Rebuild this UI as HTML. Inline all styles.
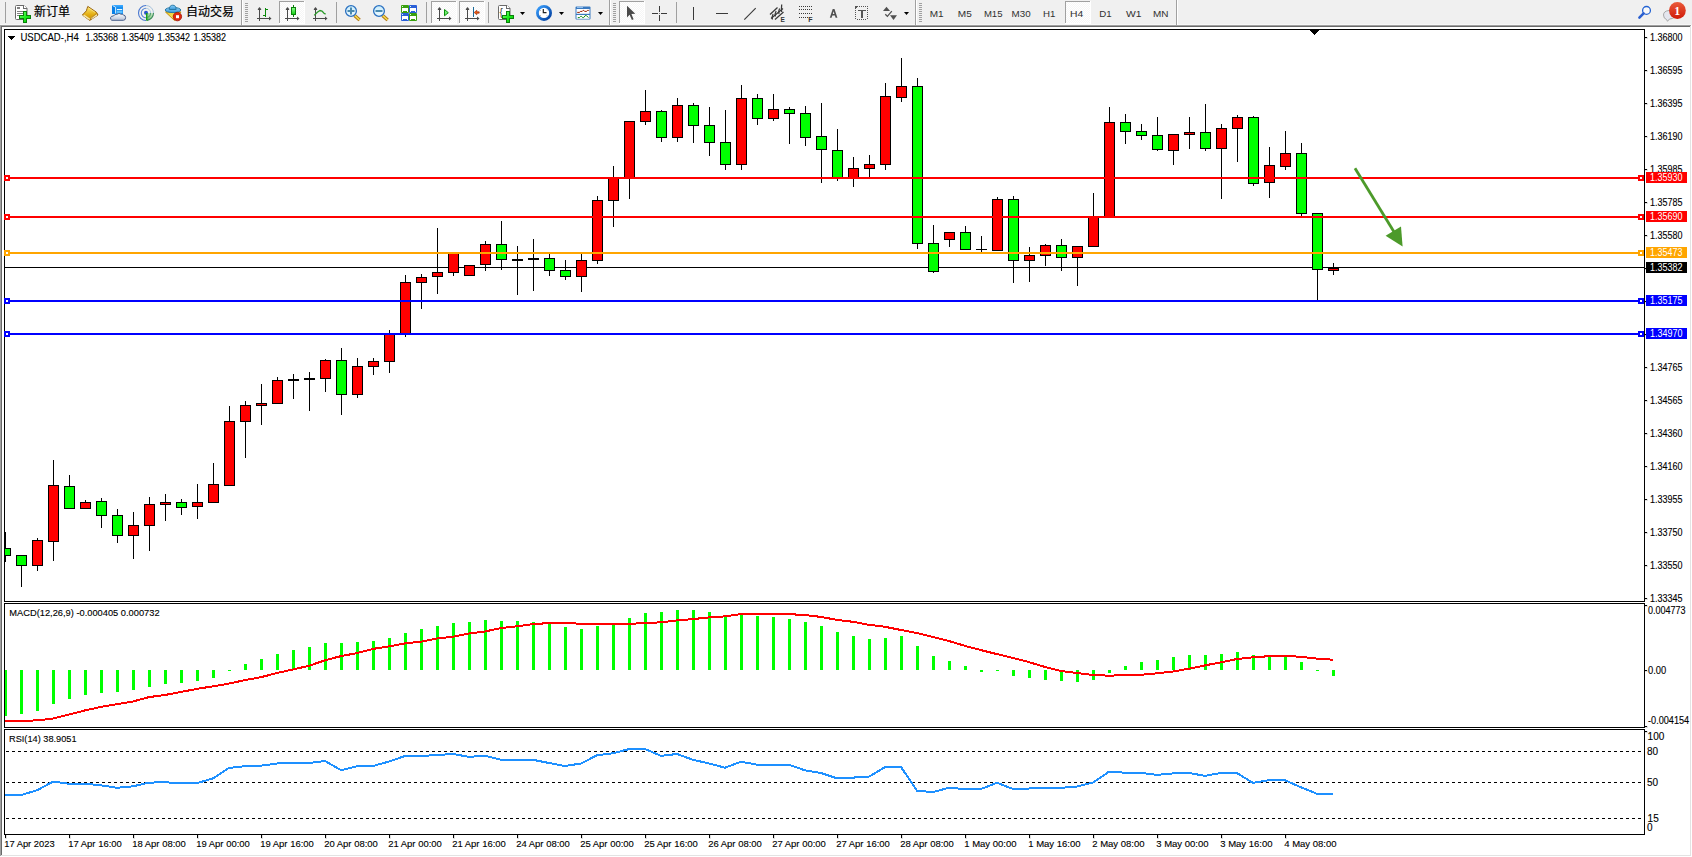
<!DOCTYPE html>
<html><head><meta charset="utf-8"><title>USDCAD,H4</title>
<style>
html,body{margin:0;padding:0;background:#f0f0f0;}
body{width:1692px;height:857px;overflow:hidden;position:relative;}
svg{position:absolute;left:0;top:0;display:block;}
</style></head><body>
<svg width="1692" height="857" viewBox="0 0 1692 857" shape-rendering="crispEdges">
<rect x="0" y="0" width="1692" height="25" fill="#f0f0f0"/>
<rect x="0" y="24" width="1691" height="1" fill="#f7f7f7"/>
<rect x="0" y="25" width="1691" height="1" fill="#a0a0a0"/>
<rect x="0" y="25" width="1" height="831" fill="#a0a0a0"/>
<rect x="0" y="856" width="1692" height="1" fill="#ffffff"/>
<rect x="1691" y="25" width="1" height="832" fill="#ffffff"/>
<rect x="1" y="26" width="1689" height="1" fill="#696969"/>
<rect x="1" y="26" width="1" height="829" fill="#696969"/>
<rect x="1" y="855" width="1690" height="1" fill="#e3e3e3"/>
<rect x="1690" y="26" width="1" height="830" fill="#e3e3e3"/>
<rect x="2" y="27" width="1688" height="828" fill="#ffffff"/>
<rect x="4" y="29" width="1641" height="1" fill="#000"/>
<rect x="4" y="601" width="1641" height="1" fill="#000"/>
<rect x="4" y="29" width="1" height="573" fill="#000"/>
<rect x="1644" y="29" width="1" height="573" fill="#000"/>
<rect x="4" y="603" width="1641" height="1" fill="#000"/>
<rect x="4" y="727" width="1641" height="1" fill="#000"/>
<rect x="4" y="603" width="1" height="125" fill="#000"/>
<rect x="1644" y="603" width="1" height="125" fill="#000"/>
<rect x="4" y="729" width="1641" height="1" fill="#000"/>
<rect x="4" y="834" width="1641" height="1" fill="#000"/>
<rect x="4" y="729" width="1" height="106" fill="#000"/>
<rect x="1644" y="729" width="1" height="106" fill="#000"/>
<rect x="5" y="267" width="1639" height="1" fill="#000"/>
<g>
<rect x="5" y="532" width="1" height="30" fill="#000"/>
<rect x="5" y="548" width="6" height="8" fill="#000"/>
<rect x="5" y="549" width="5" height="6" fill="#00ff00"/>
<rect x="21" y="555" width="1" height="32" fill="#000"/>
<rect x="16" y="555" width="11" height="11" fill="#000"/>
<rect x="17" y="556" width="9" height="9" fill="#00ff00"/>
<rect x="37" y="538" width="1" height="33" fill="#000"/>
<rect x="32" y="540" width="11" height="26" fill="#000"/>
<rect x="33" y="541" width="9" height="24" fill="#ff0000"/>
<rect x="53" y="460" width="1" height="101" fill="#000"/>
<rect x="48" y="485" width="11" height="57" fill="#000"/>
<rect x="49" y="486" width="9" height="55" fill="#ff0000"/>
<rect x="69" y="475" width="1" height="33" fill="#000"/>
<rect x="64" y="486" width="11" height="23" fill="#000"/>
<rect x="65" y="487" width="9" height="21" fill="#00ff00"/>
<rect x="85" y="500" width="1" height="8" fill="#000"/>
<rect x="80" y="502" width="11" height="7" fill="#000"/>
<rect x="81" y="503" width="9" height="5" fill="#ff0000"/>
<rect x="101" y="498" width="1" height="30" fill="#000"/>
<rect x="96" y="501" width="11" height="15" fill="#000"/>
<rect x="97" y="502" width="9" height="13" fill="#00ff00"/>
<rect x="117" y="509" width="1" height="34" fill="#000"/>
<rect x="112" y="515" width="11" height="21" fill="#000"/>
<rect x="113" y="516" width="9" height="19" fill="#00ff00"/>
<rect x="133" y="512" width="1" height="47" fill="#000"/>
<rect x="128" y="525" width="11" height="11" fill="#000"/>
<rect x="129" y="526" width="9" height="9" fill="#ff0000"/>
<rect x="149" y="497" width="1" height="54" fill="#000"/>
<rect x="144" y="504" width="11" height="22" fill="#000"/>
<rect x="145" y="505" width="9" height="20" fill="#ff0000"/>
<rect x="165" y="494" width="1" height="27" fill="#000"/>
<rect x="160" y="502" width="11" height="3" fill="#000"/>
<rect x="161" y="503" width="9" height="1" fill="#ff0000"/>
<rect x="181" y="499" width="1" height="16" fill="#000"/>
<rect x="176" y="502" width="11" height="6" fill="#000"/>
<rect x="177" y="503" width="9" height="4" fill="#00ff00"/>
<rect x="197" y="484" width="1" height="35" fill="#000"/>
<rect x="192" y="502" width="11" height="5" fill="#000"/>
<rect x="193" y="503" width="9" height="3" fill="#ff0000"/>
<rect x="213" y="463" width="1" height="39" fill="#000"/>
<rect x="208" y="484" width="11" height="19" fill="#000"/>
<rect x="209" y="485" width="9" height="17" fill="#ff0000"/>
<rect x="229" y="406" width="1" height="79" fill="#000"/>
<rect x="224" y="421" width="11" height="65" fill="#000"/>
<rect x="225" y="422" width="9" height="63" fill="#ff0000"/>
<rect x="245" y="401" width="1" height="57" fill="#000"/>
<rect x="240" y="405" width="11" height="17" fill="#000"/>
<rect x="241" y="406" width="9" height="15" fill="#ff0000"/>
<rect x="261" y="384" width="1" height="41" fill="#000"/>
<rect x="256" y="403" width="11" height="3" fill="#000"/>
<rect x="257" y="404" width="9" height="1" fill="#ff0000"/>
<rect x="277" y="377" width="1" height="27" fill="#000"/>
<rect x="272" y="380" width="11" height="24" fill="#000"/>
<rect x="273" y="381" width="9" height="22" fill="#ff0000"/>
<rect x="293" y="374" width="1" height="25" fill="#000"/>
<rect x="288" y="379" width="11" height="2" fill="#000"/>
<rect x="309" y="372" width="1" height="39" fill="#000"/>
<rect x="304" y="378" width="11" height="2" fill="#000"/>
<rect x="325" y="359" width="1" height="33" fill="#000"/>
<rect x="320" y="360" width="11" height="19" fill="#000"/>
<rect x="321" y="361" width="9" height="17" fill="#ff0000"/>
<rect x="341" y="348" width="1" height="67" fill="#000"/>
<rect x="336" y="360" width="11" height="35" fill="#000"/>
<rect x="337" y="361" width="9" height="33" fill="#00ff00"/>
<rect x="357" y="358" width="1" height="40" fill="#000"/>
<rect x="352" y="366" width="11" height="29" fill="#000"/>
<rect x="353" y="367" width="9" height="27" fill="#ff0000"/>
<rect x="373" y="358" width="1" height="17" fill="#000"/>
<rect x="368" y="361" width="11" height="6" fill="#000"/>
<rect x="369" y="362" width="9" height="4" fill="#ff0000"/>
<rect x="389" y="330" width="1" height="43" fill="#000"/>
<rect x="384" y="334" width="11" height="28" fill="#000"/>
<rect x="385" y="335" width="9" height="26" fill="#ff0000"/>
<rect x="405" y="275" width="1" height="62" fill="#000"/>
<rect x="400" y="282" width="11" height="52" fill="#000"/>
<rect x="401" y="283" width="9" height="50" fill="#ff0000"/>
<rect x="421" y="274" width="1" height="35" fill="#000"/>
<rect x="416" y="277" width="11" height="6" fill="#000"/>
<rect x="417" y="278" width="9" height="4" fill="#ff0000"/>
<rect x="437" y="228" width="1" height="66" fill="#000"/>
<rect x="432" y="272" width="11" height="5" fill="#000"/>
<rect x="433" y="273" width="9" height="3" fill="#ff0000"/>
<rect x="453" y="253" width="1" height="23" fill="#000"/>
<rect x="448" y="253" width="11" height="20" fill="#000"/>
<rect x="449" y="254" width="9" height="18" fill="#ff0000"/>
<rect x="469" y="265" width="1" height="11" fill="#000"/>
<rect x="464" y="265" width="11" height="11" fill="#000"/>
<rect x="465" y="266" width="9" height="9" fill="#ff0000"/>
<rect x="485" y="241" width="1" height="30" fill="#000"/>
<rect x="480" y="244" width="11" height="21" fill="#000"/>
<rect x="481" y="245" width="9" height="19" fill="#ff0000"/>
<rect x="501" y="221" width="1" height="49" fill="#000"/>
<rect x="496" y="244" width="11" height="16" fill="#000"/>
<rect x="497" y="245" width="9" height="14" fill="#00ff00"/>
<rect x="517" y="246" width="1" height="49" fill="#000"/>
<rect x="512" y="259" width="11" height="2" fill="#000"/>
<rect x="533" y="239" width="1" height="52" fill="#000"/>
<rect x="528" y="258" width="11" height="2" fill="#000"/>
<rect x="549" y="254" width="1" height="22" fill="#000"/>
<rect x="544" y="258" width="11" height="13" fill="#000"/>
<rect x="545" y="259" width="9" height="11" fill="#00ff00"/>
<rect x="565" y="260" width="1" height="20" fill="#000"/>
<rect x="560" y="270" width="11" height="7" fill="#000"/>
<rect x="561" y="271" width="9" height="5" fill="#00ff00"/>
<rect x="581" y="254" width="1" height="38" fill="#000"/>
<rect x="576" y="260" width="11" height="17" fill="#000"/>
<rect x="577" y="261" width="9" height="15" fill="#ff0000"/>
<rect x="597" y="196" width="1" height="68" fill="#000"/>
<rect x="592" y="200" width="11" height="61" fill="#000"/>
<rect x="593" y="201" width="9" height="59" fill="#ff0000"/>
<rect x="613" y="166" width="1" height="61" fill="#000"/>
<rect x="608" y="178" width="11" height="23" fill="#000"/>
<rect x="609" y="179" width="9" height="21" fill="#ff0000"/>
<rect x="629" y="121" width="1" height="78" fill="#000"/>
<rect x="624" y="121" width="11" height="57" fill="#000"/>
<rect x="625" y="122" width="9" height="55" fill="#ff0000"/>
<rect x="645" y="90" width="1" height="35" fill="#000"/>
<rect x="640" y="111" width="11" height="11" fill="#000"/>
<rect x="641" y="112" width="9" height="9" fill="#ff0000"/>
<rect x="661" y="110" width="1" height="32" fill="#000"/>
<rect x="656" y="111" width="11" height="27" fill="#000"/>
<rect x="657" y="112" width="9" height="25" fill="#00ff00"/>
<rect x="677" y="98" width="1" height="44" fill="#000"/>
<rect x="672" y="105" width="11" height="33" fill="#000"/>
<rect x="673" y="106" width="9" height="31" fill="#ff0000"/>
<rect x="693" y="103" width="1" height="40" fill="#000"/>
<rect x="688" y="105" width="11" height="21" fill="#000"/>
<rect x="689" y="106" width="9" height="19" fill="#00ff00"/>
<rect x="709" y="107" width="1" height="49" fill="#000"/>
<rect x="704" y="125" width="11" height="18" fill="#000"/>
<rect x="705" y="126" width="9" height="16" fill="#00ff00"/>
<rect x="725" y="110" width="1" height="60" fill="#000"/>
<rect x="720" y="142" width="11" height="23" fill="#000"/>
<rect x="721" y="143" width="9" height="21" fill="#00ff00"/>
<rect x="741" y="85" width="1" height="85" fill="#000"/>
<rect x="736" y="98" width="11" height="67" fill="#000"/>
<rect x="737" y="99" width="9" height="65" fill="#ff0000"/>
<rect x="757" y="94" width="1" height="31" fill="#000"/>
<rect x="752" y="98" width="11" height="21" fill="#000"/>
<rect x="753" y="99" width="9" height="19" fill="#00ff00"/>
<rect x="773" y="94" width="1" height="27" fill="#000"/>
<rect x="768" y="109" width="11" height="10" fill="#000"/>
<rect x="769" y="110" width="9" height="8" fill="#ff0000"/>
<rect x="789" y="107" width="1" height="37" fill="#000"/>
<rect x="784" y="109" width="11" height="5" fill="#000"/>
<rect x="785" y="110" width="9" height="3" fill="#00ff00"/>
<rect x="805" y="106" width="1" height="40" fill="#000"/>
<rect x="800" y="113" width="11" height="25" fill="#000"/>
<rect x="801" y="114" width="9" height="23" fill="#00ff00"/>
<rect x="821" y="103" width="1" height="80" fill="#000"/>
<rect x="816" y="136" width="11" height="14" fill="#000"/>
<rect x="817" y="137" width="9" height="12" fill="#00ff00"/>
<rect x="837" y="129" width="1" height="52" fill="#000"/>
<rect x="832" y="150" width="11" height="28" fill="#000"/>
<rect x="833" y="151" width="9" height="26" fill="#00ff00"/>
<rect x="853" y="157" width="1" height="30" fill="#000"/>
<rect x="848" y="168" width="11" height="10" fill="#000"/>
<rect x="849" y="169" width="9" height="8" fill="#ff0000"/>
<rect x="869" y="155" width="1" height="22" fill="#000"/>
<rect x="864" y="164" width="11" height="5" fill="#000"/>
<rect x="865" y="165" width="9" height="3" fill="#ff0000"/>
<rect x="885" y="83" width="1" height="87" fill="#000"/>
<rect x="880" y="96" width="11" height="69" fill="#000"/>
<rect x="881" y="97" width="9" height="67" fill="#ff0000"/>
<rect x="901" y="58" width="1" height="44" fill="#000"/>
<rect x="896" y="86" width="11" height="12" fill="#000"/>
<rect x="897" y="87" width="9" height="10" fill="#ff0000"/>
<rect x="917" y="78" width="1" height="171" fill="#000"/>
<rect x="912" y="86" width="11" height="158" fill="#000"/>
<rect x="913" y="87" width="9" height="156" fill="#00ff00"/>
<rect x="933" y="225" width="1" height="48" fill="#000"/>
<rect x="928" y="243" width="11" height="29" fill="#000"/>
<rect x="929" y="244" width="9" height="27" fill="#00ff00"/>
<rect x="949" y="232" width="1" height="15" fill="#000"/>
<rect x="944" y="232" width="11" height="8" fill="#000"/>
<rect x="945" y="233" width="9" height="6" fill="#ff0000"/>
<rect x="965" y="226" width="1" height="23" fill="#000"/>
<rect x="960" y="232" width="11" height="18" fill="#000"/>
<rect x="961" y="233" width="9" height="16" fill="#00ff00"/>
<rect x="981" y="236" width="1" height="16" fill="#000"/>
<rect x="976" y="249" width="11" height="1" fill="#000"/>
<rect x="997" y="197" width="1" height="54" fill="#000"/>
<rect x="992" y="199" width="11" height="52" fill="#000"/>
<rect x="993" y="200" width="9" height="50" fill="#ff0000"/>
<rect x="1013" y="196" width="1" height="87" fill="#000"/>
<rect x="1008" y="199" width="11" height="62" fill="#000"/>
<rect x="1009" y="200" width="9" height="60" fill="#00ff00"/>
<rect x="1029" y="247" width="1" height="35" fill="#000"/>
<rect x="1024" y="255" width="11" height="6" fill="#000"/>
<rect x="1025" y="256" width="9" height="4" fill="#ff0000"/>
<rect x="1045" y="244" width="1" height="22" fill="#000"/>
<rect x="1040" y="245" width="11" height="11" fill="#000"/>
<rect x="1041" y="246" width="9" height="9" fill="#ff0000"/>
<rect x="1061" y="239" width="1" height="32" fill="#000"/>
<rect x="1056" y="245" width="11" height="13" fill="#000"/>
<rect x="1057" y="246" width="9" height="11" fill="#00ff00"/>
<rect x="1077" y="246" width="1" height="40" fill="#000"/>
<rect x="1072" y="246" width="11" height="12" fill="#000"/>
<rect x="1073" y="247" width="9" height="10" fill="#ff0000"/>
<rect x="1093" y="193" width="1" height="53" fill="#000"/>
<rect x="1088" y="216" width="11" height="31" fill="#000"/>
<rect x="1089" y="217" width="9" height="29" fill="#ff0000"/>
<rect x="1109" y="107" width="1" height="109" fill="#000"/>
<rect x="1104" y="122" width="11" height="95" fill="#000"/>
<rect x="1105" y="123" width="9" height="93" fill="#ff0000"/>
<rect x="1125" y="114" width="1" height="30" fill="#000"/>
<rect x="1120" y="122" width="11" height="10" fill="#000"/>
<rect x="1121" y="123" width="9" height="8" fill="#00ff00"/>
<rect x="1141" y="124" width="1" height="16" fill="#000"/>
<rect x="1136" y="131" width="11" height="5" fill="#000"/>
<rect x="1137" y="132" width="9" height="3" fill="#00ff00"/>
<rect x="1157" y="117" width="1" height="34" fill="#000"/>
<rect x="1152" y="135" width="11" height="15" fill="#000"/>
<rect x="1153" y="136" width="9" height="13" fill="#00ff00"/>
<rect x="1173" y="134" width="1" height="31" fill="#000"/>
<rect x="1168" y="134" width="11" height="17" fill="#000"/>
<rect x="1169" y="135" width="9" height="15" fill="#ff0000"/>
<rect x="1189" y="117" width="1" height="32" fill="#000"/>
<rect x="1184" y="132" width="11" height="3" fill="#000"/>
<rect x="1185" y="133" width="9" height="1" fill="#ff0000"/>
<rect x="1205" y="104" width="1" height="47" fill="#000"/>
<rect x="1200" y="132" width="11" height="17" fill="#000"/>
<rect x="1201" y="133" width="9" height="15" fill="#00ff00"/>
<rect x="1221" y="124" width="1" height="75" fill="#000"/>
<rect x="1216" y="128" width="11" height="21" fill="#000"/>
<rect x="1217" y="129" width="9" height="19" fill="#ff0000"/>
<rect x="1237" y="115" width="1" height="47" fill="#000"/>
<rect x="1232" y="117" width="11" height="12" fill="#000"/>
<rect x="1233" y="118" width="9" height="10" fill="#ff0000"/>
<rect x="1253" y="116" width="1" height="70" fill="#000"/>
<rect x="1248" y="117" width="11" height="67" fill="#000"/>
<rect x="1249" y="118" width="9" height="65" fill="#00ff00"/>
<rect x="1269" y="147" width="1" height="51" fill="#000"/>
<rect x="1264" y="165" width="11" height="18" fill="#000"/>
<rect x="1265" y="166" width="9" height="16" fill="#ff0000"/>
<rect x="1285" y="131" width="1" height="39" fill="#000"/>
<rect x="1280" y="153" width="11" height="14" fill="#000"/>
<rect x="1281" y="154" width="9" height="12" fill="#ff0000"/>
<rect x="1301" y="143" width="1" height="73" fill="#000"/>
<rect x="1296" y="153" width="11" height="61" fill="#000"/>
<rect x="1297" y="154" width="9" height="59" fill="#00ff00"/>
<rect x="1317" y="213" width="1" height="87" fill="#000"/>
<rect x="1312" y="213" width="11" height="57" fill="#000"/>
<rect x="1313" y="214" width="9" height="55" fill="#00ff00"/>
<rect x="1333" y="263" width="1" height="12" fill="#000"/>
<rect x="1328" y="268" width="11" height="3" fill="#000"/>
<rect x="1329" y="269" width="9" height="1" fill="#ff0000"/>
</g>
<rect x="5" y="177" width="1639" height="2" fill="#ff0000"/>
<rect x="4" y="175" width="6" height="6" fill="#ff0000"/>
<rect x="6" y="177" width="2" height="2" fill="#fff"/>
<rect x="1638" y="175" width="6" height="6" fill="#ff0000"/>
<rect x="1640" y="177" width="2" height="2" fill="#fff"/>
<rect x="5" y="216" width="1639" height="2" fill="#ff0000"/>
<rect x="4" y="214" width="6" height="6" fill="#ff0000"/>
<rect x="6" y="216" width="2" height="2" fill="#fff"/>
<rect x="1638" y="214" width="6" height="6" fill="#ff0000"/>
<rect x="1640" y="216" width="2" height="2" fill="#fff"/>
<rect x="5" y="252" width="1639" height="2" fill="#ffa500"/>
<rect x="4" y="250" width="6" height="6" fill="#ffa500"/>
<rect x="6" y="252" width="2" height="2" fill="#fff"/>
<rect x="1638" y="250" width="6" height="6" fill="#ffa500"/>
<rect x="1640" y="252" width="2" height="2" fill="#fff"/>
<rect x="5" y="300" width="1639" height="2" fill="#0000ff"/>
<rect x="4" y="298" width="6" height="6" fill="#0000ff"/>
<rect x="6" y="300" width="2" height="2" fill="#fff"/>
<rect x="1638" y="298" width="6" height="6" fill="#0000ff"/>
<rect x="1640" y="300" width="2" height="2" fill="#fff"/>
<rect x="5" y="333" width="1639" height="2" fill="#0000ff"/>
<rect x="4" y="331" width="6" height="6" fill="#0000ff"/>
<rect x="6" y="333" width="2" height="2" fill="#fff"/>
<rect x="1638" y="331" width="6" height="6" fill="#0000ff"/>
<rect x="1640" y="333" width="2" height="2" fill="#fff"/>
<g fill="#4c9a2a" stroke="none" shape-rendering="geometricPrecision"><line x1="1355" y1="168.3" x2="1395" y2="233.5" stroke="#4c9a2a" stroke-width="2.8"/><polygon points="1385.6,235.8 1401,226.6 1402.6,246.6"/></g>
<polygon points="1309.5,29.5 1319.5,29.5 1314.5,35" fill="#000"/>
<polygon points="8,36 15,36 11.5,39.6" fill="#000"/>
<rect x="5" y="670" width="2" height="46" fill="#00ff00"/>
<rect x="20" y="670" width="3" height="44" fill="#00ff00"/>
<rect x="36" y="670" width="3" height="41" fill="#00ff00"/>
<rect x="52" y="670" width="3" height="34" fill="#00ff00"/>
<rect x="68" y="670" width="3" height="29" fill="#00ff00"/>
<rect x="84" y="670" width="3" height="25" fill="#00ff00"/>
<rect x="100" y="670" width="3" height="23" fill="#00ff00"/>
<rect x="116" y="670" width="3" height="22" fill="#00ff00"/>
<rect x="132" y="670" width="3" height="20" fill="#00ff00"/>
<rect x="148" y="670" width="3" height="17" fill="#00ff00"/>
<rect x="164" y="670" width="3" height="14" fill="#00ff00"/>
<rect x="180" y="670" width="3" height="13" fill="#00ff00"/>
<rect x="196" y="670" width="3" height="11" fill="#00ff00"/>
<rect x="212" y="670" width="3" height="8" fill="#00ff00"/>
<rect x="228" y="670" width="3" height="1" fill="#00ff00"/>
<rect x="244" y="664" width="3" height="6" fill="#00ff00"/>
<rect x="260" y="659" width="3" height="11" fill="#00ff00"/>
<rect x="276" y="654" width="3" height="16" fill="#00ff00"/>
<rect x="292" y="650" width="3" height="20" fill="#00ff00"/>
<rect x="308" y="647" width="3" height="23" fill="#00ff00"/>
<rect x="324" y="643" width="3" height="27" fill="#00ff00"/>
<rect x="340" y="643" width="3" height="27" fill="#00ff00"/>
<rect x="356" y="642" width="3" height="28" fill="#00ff00"/>
<rect x="372" y="641" width="3" height="29" fill="#00ff00"/>
<rect x="388" y="638" width="3" height="32" fill="#00ff00"/>
<rect x="404" y="633" width="3" height="37" fill="#00ff00"/>
<rect x="420" y="629" width="3" height="41" fill="#00ff00"/>
<rect x="436" y="626" width="3" height="44" fill="#00ff00"/>
<rect x="452" y="623" width="3" height="47" fill="#00ff00"/>
<rect x="468" y="622" width="3" height="48" fill="#00ff00"/>
<rect x="484" y="620" width="3" height="50" fill="#00ff00"/>
<rect x="500" y="621" width="3" height="49" fill="#00ff00"/>
<rect x="516" y="621" width="3" height="49" fill="#00ff00"/>
<rect x="532" y="622" width="3" height="48" fill="#00ff00"/>
<rect x="548" y="624" width="3" height="46" fill="#00ff00"/>
<rect x="564" y="627" width="3" height="43" fill="#00ff00"/>
<rect x="580" y="629" width="3" height="41" fill="#00ff00"/>
<rect x="596" y="626" width="3" height="44" fill="#00ff00"/>
<rect x="612" y="624" width="3" height="46" fill="#00ff00"/>
<rect x="628" y="618" width="3" height="52" fill="#00ff00"/>
<rect x="644" y="613" width="3" height="57" fill="#00ff00"/>
<rect x="660" y="612" width="3" height="58" fill="#00ff00"/>
<rect x="676" y="610" width="3" height="60" fill="#00ff00"/>
<rect x="692" y="610" width="3" height="60" fill="#00ff00"/>
<rect x="708" y="612" width="3" height="58" fill="#00ff00"/>
<rect x="724" y="617" width="3" height="53" fill="#00ff00"/>
<rect x="740" y="615" width="3" height="55" fill="#00ff00"/>
<rect x="756" y="616" width="3" height="54" fill="#00ff00"/>
<rect x="772" y="617" width="3" height="53" fill="#00ff00"/>
<rect x="788" y="619" width="3" height="51" fill="#00ff00"/>
<rect x="804" y="622" width="3" height="48" fill="#00ff00"/>
<rect x="820" y="626" width="3" height="44" fill="#00ff00"/>
<rect x="836" y="632" width="3" height="38" fill="#00ff00"/>
<rect x="852" y="636" width="3" height="34" fill="#00ff00"/>
<rect x="868" y="639" width="3" height="31" fill="#00ff00"/>
<rect x="884" y="638" width="3" height="32" fill="#00ff00"/>
<rect x="900" y="636" width="3" height="34" fill="#00ff00"/>
<rect x="916" y="646" width="3" height="24" fill="#00ff00"/>
<rect x="932" y="656" width="3" height="14" fill="#00ff00"/>
<rect x="948" y="661" width="3" height="9" fill="#00ff00"/>
<rect x="964" y="666" width="3" height="4" fill="#00ff00"/>
<rect x="980" y="670" width="3" height="2" fill="#00ff00"/>
<rect x="996" y="670" width="3" height="1" fill="#00ff00"/>
<rect x="1012" y="670" width="3" height="6" fill="#00ff00"/>
<rect x="1028" y="670" width="3" height="8" fill="#00ff00"/>
<rect x="1044" y="670" width="3" height="10" fill="#00ff00"/>
<rect x="1060" y="670" width="3" height="11" fill="#00ff00"/>
<rect x="1076" y="670" width="3" height="12" fill="#00ff00"/>
<rect x="1092" y="670" width="3" height="10" fill="#00ff00"/>
<rect x="1108" y="670" width="3" height="3" fill="#00ff00"/>
<rect x="1124" y="666" width="3" height="4" fill="#00ff00"/>
<rect x="1140" y="662" width="3" height="8" fill="#00ff00"/>
<rect x="1156" y="660" width="3" height="10" fill="#00ff00"/>
<rect x="1172" y="657" width="3" height="13" fill="#00ff00"/>
<rect x="1188" y="655" width="3" height="15" fill="#00ff00"/>
<rect x="1204" y="655" width="3" height="15" fill="#00ff00"/>
<rect x="1220" y="654" width="3" height="16" fill="#00ff00"/>
<rect x="1236" y="652" width="3" height="18" fill="#00ff00"/>
<rect x="1252" y="655" width="3" height="15" fill="#00ff00"/>
<rect x="1268" y="657" width="3" height="13" fill="#00ff00"/>
<rect x="1284" y="657" width="3" height="13" fill="#00ff00"/>
<rect x="1300" y="662" width="3" height="8" fill="#00ff00"/>
<rect x="1316" y="670" width="3" height="1" fill="#00ff00"/>
<rect x="1332" y="670" width="3" height="6" fill="#00ff00"/>
<polyline points="5,720.9 21,720.8 37,720.4 53,718.6 69,714.6 85,710.4 101,706.9 117,704.1 133,701.5 149,697.1 165,695 181,691.9 197,688.9 213,686.3 229,683.6 245,680.1 261,677.2 277,673.0 293,669.5 309,665.8 325,660.3 341,656.1 357,653.1 373,648.9 389,646.4 405,643.4 421,641.7 437,638.5 453,636.7 469,633.5 485,631.5 501,628 517,626.3 533,624.1 549,623.1 565,622.8 581,623.8 597,623.8 613,623.8 629,623.8 645,623.1 661,622.3 677,620.4 693,619.1 709,617.4 725,616.4 741,614.1 757,613.9 773,613.9 789,614.1 805,615.1 821,616.9 837,619.9 853,621.8 869,624.8 885,626.8 901,630 917,633 933,637 949,641 965,645.9 981,650.1 997,654.1 1013,658.1 1029,662.1 1045,667 1061,671 1077,673 1093,675 1109,675.7 1125,675.1 1141,674.8 1157,673.3 1173,671.5 1189,668.7 1205,665.4 1221,662.3 1237,659 1253,657.3 1269,656.2 1285,655.9 1301,656.8 1317,658.6 1333,659.7" fill="none" stroke="#ff0000" stroke-width="2" stroke-linejoin="round"/>
<line x1="6" y1="751.5" x2="1641" y2="751.5" stroke="#000" stroke-width="1" stroke-dasharray="3 3"/>
<line x1="6" y1="782.5" x2="1641" y2="782.5" stroke="#000" stroke-width="1" stroke-dasharray="3 3"/>
<line x1="6" y1="818.5" x2="1641" y2="818.5" stroke="#000" stroke-width="1" stroke-dasharray="3 3"/>
<polyline points="5,795 21,795 37,790.3 53,781.6 69,783.8 85,783.8 101,785.3 117,787.8 133,786.3 149,782.6 165,782.3 181,783.1 197,783.1 213,778.4 229,768 245,766.2 261,765.7 277,763.5 293,763 309,763 325,761 341,770.2 357,766.2 373,766 389,761.5 405,756 421,756 437,755 453,754 469,756.8 485,755.8 501,759.8 517,759.8 533,759.8 549,763 565,766 581,763.5 597,755.3 613,753.3 629,749.1 645,749.1 661,755.8 677,754 693,759.8 709,763.5 725,767.7 741,761.7 757,764.7 773,764.7 789,764.7 805,770.4 821,773 837,778.4 853,777.6 869,776.6 885,767.2 901,767 917,790.8 933,792 949,787.8 965,789 981,789 997,782.8 1013,789 1029,788.5 1045,787.8 1061,787.8 1077,786.6 1093,782.6 1109,771.7 1125,772.7 1141,772.9 1157,774.9 1173,773.4 1189,772.9 1205,775.9 1221,772.9 1237,773.1 1253,782.9 1269,780.2 1285,780.2 1301,787.3 1317,793.8 1333,793.8" fill="none" stroke="#1e90ff" stroke-width="2" stroke-linejoin="round"/>
<g font-family="'Liberation Sans','Noto Sans CJK SC',sans-serif" font-size="10" fill="#000" stroke="#000" stroke-width="0.12">
<text x="20.4" y="41" textLength="58.4" lengthAdjust="spacingAndGlyphs">USDCAD-,H4</text>
<text x="85.4" y="41" textLength="32.6" lengthAdjust="spacingAndGlyphs">1.35368</text>
<text x="121.4" y="41" textLength="32.6" lengthAdjust="spacingAndGlyphs">1.35409</text>
<text x="157.4" y="41" textLength="32.6" lengthAdjust="spacingAndGlyphs">1.35342</text>
<text x="193.4" y="41" textLength="32.6" lengthAdjust="spacingAndGlyphs">1.35382</text>
<text x="9.3" y="616" font-size="9.6" textLength="150.3" lengthAdjust="spacingAndGlyphs">MACD(12,26,9) -0.000405 0.000732</text>
<text x="9" y="742" font-size="9.6" textLength="67.6" lengthAdjust="spacingAndGlyphs">RSI(14) 38.9051</text>
<rect x="1645" y="37" width="2" height="1" fill="#000"/>
<text x="1650" y="41" font-size="10" textLength="32.4" lengthAdjust="spacingAndGlyphs">1.36800</text>
<rect x="1645" y="70" width="2" height="1" fill="#000"/>
<text x="1650" y="74" font-size="10" textLength="32.4" lengthAdjust="spacingAndGlyphs">1.36595</text>
<rect x="1645" y="103" width="2" height="1" fill="#000"/>
<text x="1650" y="107" font-size="10" textLength="32.4" lengthAdjust="spacingAndGlyphs">1.36395</text>
<rect x="1645" y="136" width="2" height="1" fill="#000"/>
<text x="1650" y="140" font-size="10" textLength="32.4" lengthAdjust="spacingAndGlyphs">1.36190</text>
<rect x="1645" y="169" width="2" height="1" fill="#000"/>
<text x="1650" y="173" font-size="10" textLength="32.4" lengthAdjust="spacingAndGlyphs">1.35985</text>
<rect x="1645" y="202" width="2" height="1" fill="#000"/>
<text x="1650" y="206" font-size="10" textLength="32.4" lengthAdjust="spacingAndGlyphs">1.35785</text>
<rect x="1645" y="235" width="2" height="1" fill="#000"/>
<text x="1650" y="239" font-size="10" textLength="32.4" lengthAdjust="spacingAndGlyphs">1.35580</text>
<rect x="1645" y="268" width="2" height="1" fill="#000"/>
<text x="1650" y="272" font-size="10" textLength="32.4" lengthAdjust="spacingAndGlyphs">1.35375</text>
<rect x="1645" y="301" width="2" height="1" fill="#000"/>
<text x="1650" y="305" font-size="10" textLength="32.4" lengthAdjust="spacingAndGlyphs">1.35175</text>
<rect x="1645" y="334" width="2" height="1" fill="#000"/>
<text x="1650" y="338" font-size="10" textLength="32.4" lengthAdjust="spacingAndGlyphs">1.34970</text>
<rect x="1645" y="367" width="2" height="1" fill="#000"/>
<text x="1650" y="371" font-size="10" textLength="32.4" lengthAdjust="spacingAndGlyphs">1.34765</text>
<rect x="1645" y="400" width="2" height="1" fill="#000"/>
<text x="1650" y="404" font-size="10" textLength="32.4" lengthAdjust="spacingAndGlyphs">1.34565</text>
<rect x="1645" y="433" width="2" height="1" fill="#000"/>
<text x="1650" y="437" font-size="10" textLength="32.4" lengthAdjust="spacingAndGlyphs">1.34360</text>
<rect x="1645" y="466" width="2" height="1" fill="#000"/>
<text x="1650" y="470" font-size="10" textLength="32.4" lengthAdjust="spacingAndGlyphs">1.34160</text>
<rect x="1645" y="499" width="2" height="1" fill="#000"/>
<text x="1650" y="503" font-size="10" textLength="32.4" lengthAdjust="spacingAndGlyphs">1.33955</text>
<rect x="1645" y="532" width="2" height="1" fill="#000"/>
<text x="1650" y="536" font-size="10" textLength="32.4" lengthAdjust="spacingAndGlyphs">1.33750</text>
<rect x="1645" y="565" width="2" height="1" fill="#000"/>
<text x="1650" y="569" font-size="10" textLength="32.4" lengthAdjust="spacingAndGlyphs">1.33550</text>
<rect x="1645" y="598" width="2" height="1" fill="#000"/>
<clipPath id="cpl"><rect x="1645" y="27" width="46" height="575"/></clipPath>
<text x="1650" y="602" font-size="10" textLength="32.4" lengthAdjust="spacingAndGlyphs" clip-path="url(#cpl)">1.33345</text>
<rect x="1645" y="605" width="2" height="1" fill="#000"/>
<rect x="1645" y="670" width="2" height="1" fill="#000"/>
<rect x="1645" y="726" width="2" height="1" fill="#000"/>
<rect x="1645" y="731" width="2" height="1" fill="#000"/>
<g font-size="10"><text x="1648" y="614" textLength="37.6" lengthAdjust="spacingAndGlyphs">0.004773</text><text x="1648" y="674" textLength="18.2" lengthAdjust="spacingAndGlyphs">0.00</text><text x="1648" y="724" textLength="41.2" lengthAdjust="spacingAndGlyphs">-0.004154</text></g>
<g font-size="10"><text x="1647.6" y="740">100</text><text x="1647" y="755">80</text><text x="1647" y="786">50</text><text x="1647.6" y="822">15</text><text x="1647" y="831">0</text></g>
<rect x="5" y="835" width="1" height="3" fill="#000"/>
<text x="4.2" y="847" font-size="9.6" textLength="50.4" lengthAdjust="spacingAndGlyphs">17 Apr 2023</text>
<rect x="69" y="835" width="1" height="3" fill="#000"/>
<text x="68.2" y="847" font-size="9.6" textLength="53.6" lengthAdjust="spacingAndGlyphs">17 Apr 16:00</text>
<rect x="133" y="835" width="1" height="3" fill="#000"/>
<text x="132.2" y="847" font-size="9.6" textLength="53.6" lengthAdjust="spacingAndGlyphs">18 Apr 08:00</text>
<rect x="197" y="835" width="1" height="3" fill="#000"/>
<text x="196.2" y="847" font-size="9.6" textLength="53.6" lengthAdjust="spacingAndGlyphs">19 Apr 00:00</text>
<rect x="261" y="835" width="1" height="3" fill="#000"/>
<text x="260.2" y="847" font-size="9.6" textLength="53.6" lengthAdjust="spacingAndGlyphs">19 Apr 16:00</text>
<rect x="325" y="835" width="1" height="3" fill="#000"/>
<text x="324.2" y="847" font-size="9.6" textLength="53.6" lengthAdjust="spacingAndGlyphs">20 Apr 08:00</text>
<rect x="389" y="835" width="1" height="3" fill="#000"/>
<text x="388.2" y="847" font-size="9.6" textLength="53.6" lengthAdjust="spacingAndGlyphs">21 Apr 00:00</text>
<rect x="453" y="835" width="1" height="3" fill="#000"/>
<text x="452.2" y="847" font-size="9.6" textLength="53.6" lengthAdjust="spacingAndGlyphs">21 Apr 16:00</text>
<rect x="517" y="835" width="1" height="3" fill="#000"/>
<text x="516.2" y="847" font-size="9.6" textLength="53.6" lengthAdjust="spacingAndGlyphs">24 Apr 08:00</text>
<rect x="581" y="835" width="1" height="3" fill="#000"/>
<text x="580.2" y="847" font-size="9.6" textLength="53.6" lengthAdjust="spacingAndGlyphs">25 Apr 00:00</text>
<rect x="645" y="835" width="1" height="3" fill="#000"/>
<text x="644.2" y="847" font-size="9.6" textLength="53.6" lengthAdjust="spacingAndGlyphs">25 Apr 16:00</text>
<rect x="709" y="835" width="1" height="3" fill="#000"/>
<text x="708.2" y="847" font-size="9.6" textLength="53.6" lengthAdjust="spacingAndGlyphs">26 Apr 08:00</text>
<rect x="773" y="835" width="1" height="3" fill="#000"/>
<text x="772.2" y="847" font-size="9.6" textLength="53.6" lengthAdjust="spacingAndGlyphs">27 Apr 00:00</text>
<rect x="837" y="835" width="1" height="3" fill="#000"/>
<text x="836.2" y="847" font-size="9.6" textLength="53.6" lengthAdjust="spacingAndGlyphs">27 Apr 16:00</text>
<rect x="901" y="835" width="1" height="3" fill="#000"/>
<text x="900.2" y="847" font-size="9.6" textLength="53.6" lengthAdjust="spacingAndGlyphs">28 Apr 08:00</text>
<rect x="965" y="835" width="1" height="3" fill="#000"/>
<text x="964.2" y="847" font-size="9.6" textLength="52.4" lengthAdjust="spacingAndGlyphs">1 May 00:00</text>
<rect x="1029" y="835" width="1" height="3" fill="#000"/>
<text x="1028.2" y="847" font-size="9.6" textLength="52.4" lengthAdjust="spacingAndGlyphs">1 May 16:00</text>
<rect x="1093" y="835" width="1" height="3" fill="#000"/>
<text x="1092.2" y="847" font-size="9.6" textLength="52.4" lengthAdjust="spacingAndGlyphs">2 May 08:00</text>
<rect x="1157" y="835" width="1" height="3" fill="#000"/>
<text x="1156.2" y="847" font-size="9.6" textLength="52.4" lengthAdjust="spacingAndGlyphs">3 May 00:00</text>
<rect x="1221" y="835" width="1" height="3" fill="#000"/>
<text x="1220.2" y="847" font-size="9.6" textLength="52.4" lengthAdjust="spacingAndGlyphs">3 May 16:00</text>
<rect x="1285" y="835" width="1" height="3" fill="#000"/>
<text x="1284.2" y="847" font-size="9.6" textLength="52.4" lengthAdjust="spacingAndGlyphs">4 May 08:00</text>
</g>
<rect x="1646" y="172" width="41" height="11" fill="#ff0000"/>
<text x="1650" y="181" font-family="'Liberation Sans','Noto Sans CJK SC',sans-serif" font-size="10" textLength="32.4" lengthAdjust="spacingAndGlyphs" fill="#fff">1.35930</text>
<rect x="1646" y="211" width="41" height="11" fill="#ff0000"/>
<text x="1650" y="220" font-family="'Liberation Sans','Noto Sans CJK SC',sans-serif" font-size="10" textLength="32.4" lengthAdjust="spacingAndGlyphs" fill="#fff">1.35690</text>
<rect x="1646" y="247" width="41" height="11" fill="#ffa500"/>
<text x="1650" y="256" font-family="'Liberation Sans','Noto Sans CJK SC',sans-serif" font-size="10" textLength="32.4" lengthAdjust="spacingAndGlyphs" fill="#fff">1.35473</text>
<rect x="1646" y="262" width="41" height="11" fill="#000000"/>
<text x="1650" y="271" font-family="'Liberation Sans','Noto Sans CJK SC',sans-serif" font-size="10" textLength="32.4" lengthAdjust="spacingAndGlyphs" fill="#fff">1.35382</text>
<rect x="1646" y="295" width="41" height="11" fill="#0000ff"/>
<text x="1650" y="304" font-family="'Liberation Sans','Noto Sans CJK SC',sans-serif" font-size="10" textLength="32.4" lengthAdjust="spacingAndGlyphs" fill="#fff">1.35175</text>
<rect x="1646" y="328" width="41" height="11" fill="#0000ff"/>
<text x="1650" y="337" font-family="'Liberation Sans','Noto Sans CJK SC',sans-serif" font-size="10" textLength="32.4" lengthAdjust="spacingAndGlyphs" fill="#fff">1.34970</text>
<defs>
<linearGradient id="gplus" x1="0" y1="0" x2="1" y2="1"><stop offset="0" stop-color="#8dff8d"/><stop offset="0.5" stop-color="#1df01d"/><stop offset="1" stop-color="#00c000"/></linearGradient>
<linearGradient id="ggold" x1="0" y1="0" x2="0" y2="1"><stop offset="0" stop-color="#ffe870"/><stop offset="0.6" stop-color="#e2ac10"/><stop offset="1" stop-color="#c08a10"/></linearGradient>
<linearGradient id="gblue" x1="0" y1="0" x2="1" y2="1"><stop offset="0" stop-color="#5ac8ff"/><stop offset="1" stop-color="#0a78e8"/></linearGradient>
<linearGradient id="gcloud" x1="0" y1="0" x2="0" y2="1"><stop offset="0" stop-color="#ffffff"/><stop offset="1" stop-color="#b8c2d6"/></linearGradient>
<linearGradient id="gclock" x1="0" y1="0" x2="1" y2="1"><stop offset="0" stop-color="#3aa0ff"/><stop offset="1" stop-color="#003c9c"/></linearGradient>
<linearGradient id="gbadge" x1="0" y1="0" x2="0" y2="1"><stop offset="0" stop-color="#ea5a3a"/><stop offset="1" stop-color="#d01a08"/></linearGradient>
<linearGradient id="ghat" x1="0" y1="0" x2="0" y2="1"><stop offset="0" stop-color="#8ad0f8"/><stop offset="1" stop-color="#3a98d8"/></linearGradient>
<linearGradient id="gcone" x1="0" y1="0" x2="1" y2="1"><stop offset="0" stop-color="#f0c820"/><stop offset="1" stop-color="#fff890"/></linearGradient>
<linearGradient id="glens" x1="0" y1="0" x2="0" y2="1"><stop offset="0" stop-color="#c8ecfc"/><stop offset="1" stop-color="#eefaff"/></linearGradient>
<linearGradient id="gcandle" x1="0" y1="0" x2="0" y2="1"><stop offset="0" stop-color="#90ff90"/><stop offset="1" stop-color="#10d010"/></linearGradient>
<linearGradient id="gsig" x1="1" y1="0" x2="0" y2="1"><stop offset="0" stop-color="#d8ecd8"/><stop offset="1" stop-color="#58b858"/></linearGradient>
<pattern id="dith" width="2" height="2" patternUnits="userSpaceOnUse"><rect width="2" height="2" fill="#f6f6f6"/><rect width="1" height="1" fill="#ffffff"/><rect x="1" y="1" width="1" height="1" fill="#ffffff"/></pattern>
</defs>
<rect x="5" y="2" width="1" height="21" fill="#a0a0a0" />
<rect x="241" y="0" width="1" height="25" fill="#a0a0a0" />
<rect x="242" y="0" width="1" height="25" fill="#ffffff" />
<rect x="609" y="0" width="1" height="25" fill="#a0a0a0" />
<rect x="610" y="0" width="1" height="25" fill="#ffffff" />
<rect x="915" y="0" width="1" height="25" fill="#a0a0a0" />
<rect x="916" y="0" width="1" height="25" fill="#ffffff" />
<rect x="1176" y="0" width="1" height="25" fill="#a0a0a0" />
<rect x="1177" y="0" width="1" height="25" fill="#ffffff" />
<rect x="245" y="3" width="3" height="1" fill="#a0a0a0" />
<rect x="245" y="5" width="3" height="1" fill="#a0a0a0" />
<rect x="245" y="7" width="3" height="1" fill="#a0a0a0" />
<rect x="245" y="9" width="3" height="1" fill="#a0a0a0" />
<rect x="245" y="11" width="3" height="1" fill="#a0a0a0" />
<rect x="245" y="13" width="3" height="1" fill="#a0a0a0" />
<rect x="245" y="15" width="3" height="1" fill="#a0a0a0" />
<rect x="245" y="17" width="3" height="1" fill="#a0a0a0" />
<rect x="245" y="19" width="3" height="1" fill="#a0a0a0" />
<rect x="245" y="21" width="3" height="1" fill="#a0a0a0" />
<rect x="613" y="3" width="3" height="1" fill="#a0a0a0" />
<rect x="613" y="5" width="3" height="1" fill="#a0a0a0" />
<rect x="613" y="7" width="3" height="1" fill="#a0a0a0" />
<rect x="613" y="9" width="3" height="1" fill="#a0a0a0" />
<rect x="613" y="11" width="3" height="1" fill="#a0a0a0" />
<rect x="613" y="13" width="3" height="1" fill="#a0a0a0" />
<rect x="613" y="15" width="3" height="1" fill="#a0a0a0" />
<rect x="613" y="17" width="3" height="1" fill="#a0a0a0" />
<rect x="613" y="19" width="3" height="1" fill="#a0a0a0" />
<rect x="613" y="21" width="3" height="1" fill="#a0a0a0" />
<rect x="919" y="3" width="3" height="1" fill="#a0a0a0" />
<rect x="919" y="5" width="3" height="1" fill="#a0a0a0" />
<rect x="919" y="7" width="3" height="1" fill="#a0a0a0" />
<rect x="919" y="9" width="3" height="1" fill="#a0a0a0" />
<rect x="919" y="11" width="3" height="1" fill="#a0a0a0" />
<rect x="919" y="13" width="3" height="1" fill="#a0a0a0" />
<rect x="919" y="15" width="3" height="1" fill="#a0a0a0" />
<rect x="919" y="17" width="3" height="1" fill="#a0a0a0" />
<rect x="919" y="19" width="3" height="1" fill="#a0a0a0" />
<rect x="919" y="21" width="3" height="1" fill="#a0a0a0" />
<rect x="336" y="2" width="1" height="21" fill="#a0a0a0" />
<rect x="426" y="2" width="1" height="21" fill="#a0a0a0" />
<rect x="488" y="2" width="1" height="21" fill="#a0a0a0" />
<rect x="676" y="2" width="1" height="21" fill="#a0a0a0" />
<rect x="279" y="1" width="26" height="23" fill="#ffffff" />
<rect x="279" y="1" width="25" height="22" fill="#a0a0a0" />
<rect x="280" y="2" width="24" height="21" fill="url(#dith)" />
<rect x="431" y="1" width="26" height="23" fill="#ffffff" />
<rect x="431" y="1" width="25" height="22" fill="#a0a0a0" />
<rect x="432" y="2" width="24" height="21" fill="url(#dith)" />
<rect x="459" y="1" width="26" height="23" fill="#ffffff" />
<rect x="459" y="1" width="25" height="22" fill="#a0a0a0" />
<rect x="460" y="2" width="24" height="21" fill="url(#dith)" />
<rect x="619" y="1" width="26" height="23" fill="#ffffff" />
<rect x="619" y="1" width="25" height="22" fill="#a0a0a0" />
<rect x="620" y="2" width="24" height="21" fill="url(#dith)" />
<rect x="1065" y="1" width="26" height="23" fill="#ffffff" />
<rect x="1065" y="1" width="25" height="22" fill="#a0a0a0" />
<rect x="1066" y="2" width="24" height="21" fill="url(#dith)" />
<path d="M15.5,6.5 q0,-1 1,-1 h7.5 l3,3 v10 q0,1 -1,1 h-9.5 q-1,0 -1,-1 z" fill="#fff" stroke="#6a6a6a" stroke-width="1" shape-rendering="geometricPrecision"/>
<path d="M23.5,5.5 v3 h3" fill="#fff" stroke="#6a6a6a" stroke-width="1"/>
<rect x="17" y="7" width="3" height="2" fill="#808080" />
<rect x="17" y="11" width="6" height="1" fill="#808080" />
<rect x="17" y="13" width="6" height="1" fill="#808080" />
<rect x="17" y="15" width="6" height="1" fill="#808080" />
<path d="M23.5,11.5 h3 v4 h4 v3 h-4 v4 h-3 v-4 h-4 v-3 h4 z" fill="url(#gplus)" stroke="#0a800a" stroke-width="1"/>
<g shape-rendering="geometricPrecision"><path d="M87.8,6.4 L96.4,12.2 L98,15 L89.7,20.4 L82.4,15 L86.4,10.8 Q87,8.5 87.8,6.4 Z" fill="url(#ggold)" stroke="#9a6410" stroke-width="1"/><path d="M83.6,15.1 L89.8,19.3" fill="none" stroke="#f6e6a8" stroke-width="1.6"/><path d="M91.2,18.6 L97,14.9" fill="none" stroke="#efe2b0" stroke-width="1.4"/><path d="M90.2,19.2 L96.6,13.2" fill="none" stroke="#a87018" stroke-width="0.7"/><path d="M88.6,8 L95,12.3" fill="none" stroke="#fff4a0" stroke-width="0.8" opacity="0.7"/></g>
<g shape-rendering="geometricPrecision"><rect x="112" y="5" width="11" height="9" fill="#1a90f0"/><rect x="112" y="5" width="11" height="1.6" fill="#3aa8ff"/><rect x="112" y="6" width="3.4" height="8" fill="#0a7fe6"/><path d="M112.6,5.6 L115.6,7.2 V13.5" stroke="#e8f6ff" fill="none" stroke-width="0.9"/><rect x="117" y="9" width="5.2" height="1.1" fill="#e8f8ff"/><rect x="116.8" y="11" width="5.6" height="2" fill="#5ac0ff"/><path d="M111.8,20.3 Q110.3,19.8 110.6,17.6 Q111.1,15.8 113.5,16 Q114.3,14.2 116.8,14.4 Q119,12.4 121.2,14.3 Q122.3,14 123.2,14.8 Q125.6,15.2 125.6,17.6 Q125.6,20.2 123.4,20.3 Z" fill="url(#gcloud)" stroke="#4a5f8a" stroke-width="1"/></g>
<g shape-rendering="geometricPrecision" fill="none"><path d="M146.6,13 L146.6,20.5 A7.5,7.5 0 0 0 153.6,13 Z" fill="url(#gsig)"/><path d="M146,20.5 A7.5,7.5 0 0 1 146,5.5" stroke="#4a78d0" stroke-width="1.1"/><path d="M146,5.5 A7.5,7.5 0 0 1 153.5,13" stroke="#a8c4dc" stroke-width="1"/><path d="M153.5,13 A7.5,7.5 0 0 1 147,20.4" stroke="#3a8a5a" stroke-width="1.1"/><path d="M146,17.7 A4.7,4.7 0 0 1 146,8.3" stroke="#5a88d4" stroke-width="1.1"/><path d="M146,8.3 A4.7,4.7 0 0 1 150.7,13" stroke="#b0cce0" stroke-width="1"/><path d="M150.7,13 A4.7,4.7 0 0 1 147.5,17.5" stroke="#4a9a6a" stroke-width="1"/><circle cx="146" cy="12.8" r="2" fill="#2a56cc"/><rect x="146" y="13" width="1.4" height="7.6" fill="#18a018"/></g>
<g shape-rendering="geometricPrecision"><path d="M165.5,12 L181,12 L174.5,20.5 Z" fill="url(#gcone)" stroke="#c09010" stroke-width="1"/><ellipse cx="173" cy="10" rx="7.8" ry="2.6" fill="url(#ghat)" stroke="#2a7aa8" stroke-width="1"/><path d="M169.3,9.5 q0,-4.3 3.5,-4.3 q3.3,0 3.3,4.3 z" fill="url(#ghat)" stroke="#2a7aa8" stroke-width="1"/><circle cx="177.4" cy="16.6" r="4.2" fill="#e02a10" stroke="#a01000" stroke-width="0.8"/><rect x="176" y="15.2" width="3" height="3" fill="#fff"/></g>
<rect x="259" y="8" width="1" height="13" fill="#4a4a4a" />
<rect x="258" y="9" width="3" height="1" fill="#4a4a4a" />
<rect x="257" y="10" width="1" height="0" fill="#4a4a4a" />
<path d="M259.5,7 l-2,2.5 h4 z" fill="#4a4a4a" shape-rendering="geometricPrecision"/>
<rect x="257" y="18" width="13" height="1" fill="#4a4a4a" />
<path d="M271.5,18.5 l-2.5,-2 v4 z" fill="#4a4a4a" shape-rendering="geometricPrecision"/>
<rect x="265" y="8" width="1" height="9" fill="#0a8a0a" />
<rect x="266" y="9" width="2" height="1" fill="#0a8a0a" />
<rect x="263" y="15" width="2" height="1" fill="#0a8a0a" />
<rect x="287" y="8" width="1" height="13" fill="#4a4a4a" />
<rect x="286" y="9" width="3" height="1" fill="#4a4a4a" />
<rect x="285" y="10" width="1" height="0" fill="#4a4a4a" />
<path d="M287.5,7 l-2,2.5 h4 z" fill="#4a4a4a" shape-rendering="geometricPrecision"/>
<rect x="285" y="18" width="13" height="1" fill="#4a4a4a" />
<path d="M299.5,18.5 l-2.5,-2 v4 z" fill="#4a4a4a" shape-rendering="geometricPrecision"/>
<rect x="293" y="5" width="1" height="12" fill="#0a800a" />
<rect x="291.5" y="7.5" width="4" height="7" fill="url(#gcandle)" stroke="#0a800a" stroke-width="1"/>
<rect x="315" y="8" width="1" height="13" fill="#4a4a4a" />
<rect x="314" y="9" width="3" height="1" fill="#4a4a4a" />
<rect x="313" y="10" width="1" height="0" fill="#4a4a4a" />
<path d="M315.5,7 l-2,2.5 h4 z" fill="#4a4a4a" shape-rendering="geometricPrecision"/>
<rect x="313" y="18" width="13" height="1" fill="#4a4a4a" />
<path d="M327.5,18.5 l-2.5,-2 v4 z" fill="#4a4a4a" shape-rendering="geometricPrecision"/>
<path d="M314.2,15.4 L317.3,12.2 L320,10.5 L322,11 L324,13.2 L325.6,14.1" fill="none" stroke="#2a9a2a" stroke-width="1.3" shape-rendering="geometricPrecision"/>
<g shape-rendering="geometricPrecision"><path d="M354.6,15.4 L359.6,20" stroke="#b07010" stroke-width="3.4" stroke-linecap="butt"/><path d="M354.6,15.4 L359.6,20" stroke="#f0dc50" stroke-width="1.6"/><circle cx="351" cy="11" r="5.4" fill="url(#glens)" stroke="#2a70c0" stroke-width="1.3"/><rect x="347.5" y="10" width="7" height="2" fill="#4a8ab0"/><rect x="350" y="7.5" width="2" height="7" fill="#4a8ab0"/></g>
<g shape-rendering="geometricPrecision"><path d="M382.6,15.4 L387.6,20" stroke="#b07010" stroke-width="3.4" stroke-linecap="butt"/><path d="M382.6,15.4 L387.6,20" stroke="#f0dc50" stroke-width="1.6"/><circle cx="379" cy="11" r="5.4" fill="url(#glens)" stroke="#2a70c0" stroke-width="1.3"/><rect x="375.5" y="10" width="7" height="2" fill="#4a8ab0"/></g>
<rect x="401" y="5" width="8" height="8" rx="1" fill="#3aa010" shape-rendering="geometricPrecision"/>
<rect x="402" y="8" width="6" height="3" fill="#ffffff" />
<rect x="402" y="11" width="1" height="1" fill="#ffffff" />
<rect x="407" y="11" width="1" height="1" fill="#ffffff" />
<rect x="402" y="6" width="1" height="1" fill="#e0ffe0" />
<rect x="409" y="5" width="8" height="8" rx="1" fill="#2a5fd8" shape-rendering="geometricPrecision"/>
<rect x="410" y="8" width="6" height="3" fill="#ffffff" />
<rect x="410" y="11" width="1" height="1" fill="#ffffff" />
<rect x="415" y="11" width="1" height="1" fill="#ffffff" />
<rect x="410" y="6" width="1" height="1" fill="#e0ffe0" />
<rect x="401" y="13" width="8" height="8" rx="1" fill="#2a5fd8" shape-rendering="geometricPrecision"/>
<rect x="402" y="16" width="6" height="3" fill="#ffffff" />
<rect x="402" y="19" width="1" height="1" fill="#ffffff" />
<rect x="407" y="19" width="1" height="1" fill="#ffffff" />
<rect x="402" y="14" width="1" height="1" fill="#e0ffe0" />
<rect x="409" y="13" width="8" height="8" rx="1" fill="#3aa010" shape-rendering="geometricPrecision"/>
<rect x="410" y="16" width="6" height="3" fill="#ffffff" />
<rect x="410" y="19" width="1" height="1" fill="#ffffff" />
<rect x="415" y="19" width="1" height="1" fill="#ffffff" />
<rect x="410" y="14" width="1" height="1" fill="#e0ffe0" />
<rect x="439" y="8" width="1" height="13" fill="#4a4a4a" />
<rect x="438" y="9" width="3" height="1" fill="#4a4a4a" />
<rect x="437" y="10" width="1" height="0" fill="#4a4a4a" />
<path d="M439.5,7 l-2,2.5 h4 z" fill="#4a4a4a" shape-rendering="geometricPrecision"/>
<rect x="437" y="18" width="13" height="1" fill="#4a4a4a" />
<path d="M451.5,18.5 l-2.5,-2 v4 z" fill="#4a4a4a" shape-rendering="geometricPrecision"/>
<path d="M444.5,9.5 L448.3,12.7 L444.5,15.8 Z" fill="#70f070" stroke="#0a900a" stroke-width="1" shape-rendering="geometricPrecision"/>
<rect x="467" y="8" width="1" height="13" fill="#4a4a4a" />
<rect x="466" y="9" width="3" height="1" fill="#4a4a4a" />
<rect x="465" y="10" width="1" height="0" fill="#4a4a4a" />
<path d="M467.5,7 l-2,2.5 h4 z" fill="#4a4a4a" shape-rendering="geometricPrecision"/>
<rect x="465" y="18" width="13" height="1" fill="#4a4a4a" />
<path d="M479.5,18.5 l-2.5,-2 v4 z" fill="#4a4a4a" shape-rendering="geometricPrecision"/>
<rect x="473" y="7" width="1" height="10" fill="#1a6a9a" />
<path d="M474.2,12.5 l2.6,-2.2 v1.5 h2.4 v1.4 h-2.4 v1.5 z" fill="#f06010" stroke="#902000" stroke-width="0.6" shape-rendering="geometricPrecision"/>
<path d="M498.5,6.5 q0,-1 1,-1 h7.5 l3,3 v10 q0,1 -1,1 h-9.5 q-1,0 -1,-1 z" fill="#fff" stroke="#6a6a6a" stroke-width="1" shape-rendering="geometricPrecision"/>
<path d="M506.5,5.5 v3 h3" fill="#fff" stroke="#6a6a6a" stroke-width="1"/>
<text x="499.5" y="15.5" font-family="'Liberation Sans','Noto Sans CJK SC',sans-serif" font-size="10" fill="#403a30">{</text>
<path d="M506.5,11.5 h3 v4 h4 v3 h-4 v4 h-3 v-4 h-4 v-3 h4 z" fill="url(#gplus)" stroke="#0a800a" stroke-width="1"/>
<path d="M520,12 h5 l-2.5,3 z" fill="#000" shape-rendering="geometricPrecision"/>
<path d="M559,12 h5 l-2.5,3 z" fill="#000" shape-rendering="geometricPrecision"/>
<path d="M598,12 h5 l-2.5,3 z" fill="#000" shape-rendering="geometricPrecision"/>
<path d="M904,12 h5 l-2.5,3 z" fill="#000" shape-rendering="geometricPrecision"/>
<g shape-rendering="geometricPrecision"><circle cx="544" cy="12.9" r="6.6" fill="#fff" stroke="url(#gclock)" stroke-width="2.8"/><path d="M543.3,9 v3.6 h3.2" fill="none" stroke="#222" stroke-width="1.2"/><g fill="#999"><rect x="540" y="10" width="0.8" height="0.8"/><rect x="546.8" y="9.5" width="0.8" height="0.8"/><rect x="540" y="15" width="0.8" height="0.8"/><rect x="546.5" y="15.3" width="0.8" height="0.8"/></g></g>
<g shape-rendering="geometricPrecision"><rect x="575.5" y="6.5" width="15" height="13" rx="1" fill="#3a7ac0"/><rect x="577" y="6.8" width="6" height="1" fill="#a8d0f8"/><rect x="576.5" y="9" width="13" height="4.8" fill="#fff"/><rect x="576.5" y="15" width="13" height="3.8" fill="#fff"/><path d="M577.2,12.4 L579.6,12.4 L580.4,11.4 L582.2,11.4 L583,10.4 L583.8,10.4 L584.6,11.4 L586.6,11.4 L587.4,10.4 L588.8,10.4" fill="none" stroke="#9a2000" stroke-width="1"/><path d="M577.8,17.6 L579.4,17.6 L580.6,16.4 L581.6,16.4 L582.6,17.6 L583.6,17.6 L585.2,15.6 L586.4,15.6 L588.4,17.6" fill="none" stroke="#108a10" stroke-width="1"/></g>
<path d="M627,5.7 L635.3,13.8 L631.4,14 L633.6,19.3 L631.9,20 L629.6,14.7 L627,17.4 Z" fill="#4a4a4a" shape-rendering="geometricPrecision"/>
<rect x="659" y="6" width="1" height="6" fill="#3a3a3a" />
<rect x="659" y="15" width="1" height="6" fill="#3a3a3a" />
<rect x="652" y="13" width="6" height="1" fill="#3a3a3a" />
<rect x="661" y="13" width="6" height="1" fill="#3a3a3a" />
<rect x="659" y="13" width="1" height="1" fill="#777" />
<rect x="693" y="7" width="1" height="13" fill="#3a3a3a" />
<rect x="716" y="13" width="12" height="1" fill="#3a3a3a" />
<path d="M744.3,19.6 L755.7,8.1" stroke="#3a3a3a" stroke-width="1.1" shape-rendering="geometricPrecision"/>
<g stroke="#3a3a3a" stroke-width="1.25" fill="none" shape-rendering="geometricPrecision"><path d="M770,14.5 L777.5,7.5"/><path d="M771,18.5 L783,8.5"/><path d="M775,19.5 L783.5,12"/><path d="M772.5,19.5 q-0.8,-3 0.6,-5.5"/><path d="M775.5,16.5 q-0.8,-3 0.6,-5.5"/><path d="M779,14 q-0.8,-3 0.6,-5.5"/><path d="M781.7,12 q-0.5,-3 0,-7.5"/></g>
<text x="780.6" y="21.8" font-family="'Liberation Sans','Noto Sans CJK SC',sans-serif" font-size="6.5" font-weight="bold" fill="#333">E</text>
<rect x="799" y="6" width="1" height="1" fill="#3a3a3a" />
<rect x="801" y="6" width="1" height="1" fill="#3a3a3a" />
<rect x="803" y="6" width="1" height="1" fill="#3a3a3a" />
<rect x="805" y="6" width="1" height="1" fill="#3a3a3a" />
<rect x="807" y="6" width="1" height="1" fill="#3a3a3a" />
<rect x="809" y="6" width="1" height="1" fill="#3a3a3a" />
<rect x="811" y="6" width="1" height="1" fill="#3a3a3a" />
<rect x="799" y="9" width="1" height="1" fill="#3a3a3a" />
<rect x="801" y="9" width="1" height="1" fill="#3a3a3a" />
<rect x="803" y="9" width="1" height="1" fill="#3a3a3a" />
<rect x="805" y="9" width="1" height="1" fill="#3a3a3a" />
<rect x="807" y="9" width="1" height="1" fill="#3a3a3a" />
<rect x="809" y="9" width="1" height="1" fill="#3a3a3a" />
<rect x="811" y="9" width="1" height="1" fill="#3a3a3a" />
<rect x="799" y="13" width="1" height="1" fill="#3a3a3a" />
<rect x="801" y="13" width="1" height="1" fill="#3a3a3a" />
<rect x="803" y="13" width="1" height="1" fill="#3a3a3a" />
<rect x="805" y="13" width="1" height="1" fill="#3a3a3a" />
<rect x="807" y="13" width="1" height="1" fill="#3a3a3a" />
<rect x="809" y="13" width="1" height="1" fill="#3a3a3a" />
<rect x="811" y="13" width="1" height="1" fill="#3a3a3a" />
<rect x="799" y="17" width="1" height="1" fill="#3a3a3a" />
<rect x="801" y="17" width="1" height="1" fill="#3a3a3a" />
<rect x="803" y="17" width="1" height="1" fill="#3a3a3a" />
<rect x="805" y="17" width="1" height="1" fill="#3a3a3a" />
<rect x="807" y="17" width="1" height="1" fill="#3a3a3a" />
<text x="808.3" y="22" font-family="'Liberation Sans','Noto Sans CJK SC',sans-serif" font-size="7" font-weight="bold" fill="#333">F</text>
<path d="M829.8,17.8 L832.7,9 L834.5,9 L837.4,17.8 L835.6,17.8 L834.9,15.6 L832.3,15.6 L831.6,17.8 Z M832.8,14.1 L834.4,14.1 L833.6,11.3 Z" fill="#505050" fill-rule="evenodd" shape-rendering="geometricPrecision"/>
<rect x="857" y="6" width="1" height="1" fill="#555" />
<rect x="859" y="6" width="1" height="1" fill="#555" />
<rect x="861" y="6" width="1" height="1" fill="#555" />
<rect x="863" y="6" width="1" height="1" fill="#555" />
<rect x="865" y="6" width="1" height="1" fill="#555" />
<rect x="867" y="6" width="1" height="1" fill="#555" />
<rect x="867" y="6" width="1" height="1" fill="#555" />
<rect x="855" y="6" width="2" height="2" fill="#555" />
<rect x="855" y="8" width="1" height="1" fill="#555" />
<rect x="867" y="8" width="1" height="1" fill="#555" />
<rect x="855" y="10" width="1" height="1" fill="#555" />
<rect x="867" y="10" width="1" height="1" fill="#555" />
<rect x="855" y="12" width="1" height="1" fill="#555" />
<rect x="867" y="12" width="1" height="1" fill="#555" />
<rect x="855" y="14" width="1" height="1" fill="#555" />
<rect x="867" y="14" width="1" height="1" fill="#555" />
<rect x="855" y="16" width="1" height="1" fill="#555" />
<rect x="867" y="16" width="1" height="1" fill="#555" />
<rect x="855" y="18" width="1" height="1" fill="#555" />
<rect x="867" y="18" width="1" height="1" fill="#555" />
<rect x="857" y="19" width="1" height="1" fill="#555" />
<rect x="859" y="19" width="1" height="1" fill="#555" />
<rect x="861" y="19" width="1" height="1" fill="#555" />
<rect x="863" y="19" width="1" height="1" fill="#555" />
<rect x="865" y="19" width="1" height="1" fill="#555" />
<rect x="858" y="10" width="8" height="1" fill="#555" />
<rect x="861" y="10" width="2" height="8" fill="#555" />
<g fill="#505050" shape-rendering="geometricPrecision"><path d="M883,11 L886.5,6.8 L890,11 Z"/><path d="M890,15.3 L897,15.3 L893.5,20 Z"/><path d="M885.3,14.2 L887.4,16.4 L891.8,11.2" fill="none" stroke="#505050" stroke-width="1.3"/></g>
<g font-family="'Liberation Sans','Noto Sans CJK SC',sans-serif" fill="#000" stroke="#000" stroke-width="0.2">
<text x="34" y="16.2" font-size="12">新订单</text>
<text x="186" y="16.2" font-size="12">自动交易</text>
</g>
<g font-family="'Liberation Sans','Noto Sans CJK SC',sans-serif" font-size="9.8" fill="#303030">
<text x="929.8" y="17" textLength="13.9" lengthAdjust="spacingAndGlyphs">M1</text>
<text x="957.8" y="17" textLength="14.0" lengthAdjust="spacingAndGlyphs">M5</text>
<text x="983.9" y="17" textLength="18.6" lengthAdjust="spacingAndGlyphs">M15</text>
<text x="1011.6" y="17" textLength="19.0" lengthAdjust="spacingAndGlyphs">M30</text>
<text x="1043.1000000000001" y="17" textLength="12.4" lengthAdjust="spacingAndGlyphs">H1</text>
<text x="1070.0" y="17" textLength="13.2" lengthAdjust="spacingAndGlyphs">H4</text>
<text x="1099.2" y="17" textLength="12.4" lengthAdjust="spacingAndGlyphs">D1</text>
<text x="1126.1000000000001" y="17" textLength="15.5" lengthAdjust="spacingAndGlyphs">W1</text>
<text x="1153.0" y="17" textLength="15.5" lengthAdjust="spacingAndGlyphs">MN</text>
</g>
<g shape-rendering="geometricPrecision"><circle cx="1646.5" cy="10.4" r="3.9" fill="#fff" fill-opacity="0.6" stroke="#2262d2" stroke-width="1.3"/><path d="M1643.6,13.4 L1639.4,17.6" stroke="#2a5fd0" stroke-width="2.6" stroke-linecap="round"/></g>
<g shape-rendering="geometricPrecision"><path d="M1666.5,19.5 q-3,-1 -3,-4.5 q0,-4 5.5,-4.5 q5.5,0 6.5,4 q0,4 -6,4.5 l-2,2.3 z" fill="#e4e6ee" stroke="#a0a0a0" stroke-width="0.9"/><circle cx="1677.4" cy="10.5" r="8.4" fill="url(#gbadge)"/><text x="1677.2" y="15" font-family="'Liberation Serif',serif" font-size="12" font-weight="bold" fill="#fff" text-anchor="middle">1</text></g>
</svg>
</body></html>
